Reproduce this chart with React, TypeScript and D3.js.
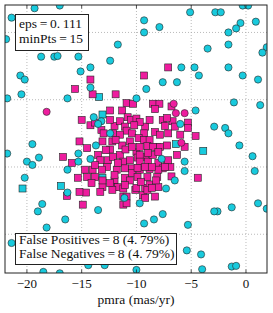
import * as d3 from 'd3';

// pmra (mas/yr) vs pmdec
// squares = true members, circles = field stars; magenta = DBSCAN cluster, cyan = noise
const truePositives: [number, number][] = [
  [-14.2, 6.5], [-15.6, 5.8], [-14.0, 5.4], [-11.9, 5.4], [-7.1, 7.4], [-9.3, 6.8],
  [-10.9, 4.75], [-10.3, 4.7], [-12.4, 4.2], [-11.3, 4.2], [-8.5, 4.7], [-7.9, 4.7],
  [-8.3, 4.3], [-6.8, 4.5], [-15.0, 3.5], [-14.2, 3.1], [-13.8, 3.3], [-13.2, 2.75],
  [-13.0, 2.5], [-12.0, 3.05], [-11.5, 3.4], [-10.8, 3.7], [-10.5, 3.5], [-10.0, 3.6],
  [-9.2, 3.0], [-8.8, 3.5], [-11.05, 3.0], [-10.9, 2.7], [-10.4, 2.5], [-12.15, 2.5],
  [-9.3, 2.5], [-8.3, 2.6], [-7.6, 3.5], [-6.7, 3.4], [-7.4, 3.05], [-6.5, 3.0],
  [-5.3, 3.3], [-5.3, 2.9], [-4.6, 2.3], [-15.2, 1.9], [-14.5, 1.4], [-13.1, 1.9],
  [-12.2, 1.9], [-12.4, 1.3], [-11.3, 1.6], [-10.6, 1.9], [-9.8, 2.15], [-9.3, 2.0],
  [-8.8, 2.0], [-8.1, 1.5], [-7.2, 1.6], [-5.6, 1.5], [-6.3, 0.9], [-16.7, 0.75],
  [-15.9, 0.3], [-14.7, -0.2], [-14.0, -0.2], [-13.5, 0.9], [-13.3, 0.5], [-12.6, 0.5],
  [-12.15, 0.75], [-11.5, 0.9], [-11.2, 0.4], [-10.6, 0.5], [-10.0, 1.1], [-9.9, 0.7],
  [-9.2, 0.75], [-8.95, 0.4], [-8.5, 0.9], [-8.0, 0.3], [-7.2, 0.4], [-6.9, 0.0],
  [-7.6, -0.1], [-8.8, -0.15], [-9.7, -0.2], [-10.4, -0.1], [-11.05, -0.1], [-11.8, -0.2],
  [-12.7, 0.0], [-13.15, -0.2], [-14.5, -0.75], [-13.8, -0.75], [-12.0, -1.0], [-11.05, -0.8],
  [-10.4, -0.45], [-9.9, -0.75], [-9.0, -0.75], [-8.0, -0.2], [-8.1, -0.75], [-6.8, -0.7],
  [-12.05, -1.5], [-11.7, -1.5], [-13.1, -1.5], [-14.1, -1.2], [-11.2, -1.6], [-10.6, -1.0],
  [-10.1, -1.7], [-10.0, -1.55], [-9.2, -1.55], [-8.8, -1.3], [-8.0, -1.5], [-14.6, -1.9],
  [-13.3, -1.85], [-12.2, -1.7], [-11.2, -2.2], [-10.9, -2.2], [-9.4, -2.1], [-8.3, -2.2],
  [-14.9, -2.8], [-11.2, -2.8], [-10.9, -2.7], [-16.35, -2.15], [-4.4, -0.8], [-9.7, 1.5],
  [-9.0, 1.55], [-8.5, 1.5], [-7.85, 1.5], [-8.95, 1.05], [-9.7, 0.9], [-8.0, 1.1],
  [-7.1, 0.5], [-9.7, 0.4], [-9.2, -2.3], [-9.0, -1.7], [-8.6, -1.55], [-9.6, -1.1],
  [-8.2, -1.0], [-15.2, -1.85], [-7.1, 2.5], [-9.7, 3.35], [-7.2, 3.65], [-13.1, -1.0],
  [-12.4, -1.2], [-12.0, -0.6], [-11.05, -1.35], [-9.9, -0.07], [-9.2, 0.0], [-8.6, 0.0],
  [-7.4, 0.0], [-11.5, 2.4], [-11.9, 2.0], [-11.0, 1.3], [-10.4, 1.5], [-11.7, 0.3],
  [-12.8, 1.25], [-13.8, 0.15], [-10.2, 3.1], [-12.4, 3.5], [-7.85, 2.4], [-6.0, 2.4],
  [-15.35, -0.8],
];

const falseNegatives: [number, number][] = [
  [-13.4, 5.2], [-13.1, 3.9], [-16.9, -1.4], [-20.4, -1.6], [-3.9, 1.2], [-6.4, 1.7],
  [-13.1, -0.8],
];

const trueNegatives: [number, number][] = [
  [-19.3, 11.8], [-17.0, 12.0], [-21.4, 11.1], [-21.9, 9.5], [-17.2, 8.9], [-11.7, 9.1],
  [-18.7, 8.2], [-17.5, 8.2], [-17.2, 8.25], [-15.3, 8.2], [-12.4, 7.9], [-15.1, 7.1],
  [-14.2, 7.4], [-20.6, 6.8], [-20.2, 6.5], [-20.5, 5.4], [-16.3, 5.1], [-14.2, 5.9],
  [-10.0, 5.1], [-5.1, 11.5], [-2.8, 11.5], [-2.3, 11.5], [-0.3, 12.0], [0.2, 12.0],
  [-9.3, 10.9], [-7.9, 10.4], [-9.3, 10.0], [0.9, 10.8], [-0.5, 10.7], [-0.9, 10.3],
  [-1.6, 10.0], [-1.6, 9.1], [-3.5, 8.8], [1.9, 8.9], [1.5, 8.5], [-5.9, 7.4],
  [-4.7, 7.4], [-1.6, 7.4], [-4.3, 6.8], [-0.3, 6.8], [1.1, 6.5], [-7.6, 6.3],
  [-6.3, 6.3], [-9.1, 5.8], [-1.1, 4.8], [1.3, 4.6], [-2.9, 3.0], [-1.9, 2.9],
  [-1.6, 2.5], [-0.6, 1.6], [0.6, 0.8], [0.8, -0.3], [1.1, -2.7], [-1.3, -3.0],
  [-2.6, -3.3], [1.9, -3.1], [-21.8, 5.1], [-19.5, 1.7], [-21.8, 1.0], [-18.9, 0.7],
  [-20.0, 0.4], [-19.5, 0.15], [-20.2, -0.8], [-18.6, -2.75], [-19.0, -3.3], [-13.9, 3.7],
  [-13.2, 3.4], [-13.5, 3.2], [-12.4, 2.5], [-13.7, 1.6], [-15.3, 1.0], [-15.3, 0.4],
  [-14.2, 0.6], [-4.6, 4.2], [-6.0, 3.2], [-7.7, 0.6], [-5.6, 0.4], [-5.6, -0.3],
  [-6.5, -1.0], [-7.3, -1.6], [-9.7, -2.7], [-7.6, -3.5], [-8.4, -3.9], [-9.3, -4.2],
  [-5.3, -4.3], [-2.9, -3.3], [-5.4, -6.2], [-4.1, -6.5], [-4.0, -7.6], [-1.3, -7.4],
  [-0.9, -7.35], [-10.0, -7.65], [-18.2, -4.5], [-16.5, -3.9], [-21.4, -5.65], [-18.5, -7.8],
  [-17.0, -7.9], [-14.4, -7.3], [-12.9, -7.3], [-16.3, -0.2], [-16.3, -1.9], [-13.5, -3.2],
  [-11.1, -2.3],
];

const falsePositives: [number, number][] = [
  [-18.2, 4.1], [-6.6, 4.7], [-6.4, 4.0], [-5.6, 4.0], [-5.9, 1.8],
];

const xTicks = [-20, -15, -10, -5, 0];
const yGridLines = [10, 5, 0, -5];
const paramLines = ['eps\u2009=\u20090.\u2009111', 'minPts\u2009=\u200915'];
const scoreLines = [
  'False Positives\u2009=\u20098 (4.\u200979%)',
  'False Negatives\u2009=\u20098 (4.\u200979%)',
];

const WIDTH = 273;
const HEIGHT = 313;
const MARGIN = { top: 5, right: 6, bottom: 40, left: 5 };

const MAGENTA = '#ee1c9e';
const CYAN = '#18cadd';
const EDGE = '#262626';
const FONT = '"Liberation Serif", "Times New Roman", serif';

const App = () => {
  const boundsWidth = WIDTH - MARGIN.left - MARGIN.right;
  const boundsHeight = HEIGHT - MARGIN.top - MARGIN.bottom;

  const xScale = d3.scaleLinear().domain([-22.0, 1.92]).range([0, boundsWidth]);
  const yScale = d3.scaleLinear().domain([-7.88, 12.04]).range([boundsHeight, 0]);

  const r = 3.6;
  const side = 7;

  const squares = (data: [number, number][], fill: string, key: string) =>
    data.map((d, i) => (
      <rect
        key={`${key}-${i}`}
        x={xScale(d[0]) - side / 2}
        y={yScale(d[1]) - side / 2}
        width={side}
        height={side}
        fill={fill}
        stroke={EDGE}
        strokeWidth={0.6}
      />
    ));

  const circles = (data: [number, number][], fill: string, key: string) =>
    data.map((d, i) => (
      <circle
        key={`${key}-${i}`}
        cx={xScale(d[0])}
        cy={yScale(d[1])}
        r={r}
        fill={fill}
        stroke={EDGE}
        strokeWidth={0.6}
      />
    ));

  return (
    <svg
      width={WIDTH}
      height={HEIGHT}
      style={{ position: 'absolute', left: 0, top: 0, background: 'white' }}
    >
      <defs>
        <clipPath id="plot-clip">
          <rect x={0} y={0} width={boundsWidth} height={boundsHeight} />
        </clipPath>
      </defs>
      <g transform={`translate(${MARGIN.left},${MARGIN.top})`}>
        {/* grid */}
        {xTicks.map(t => (
          <line
            key={`gx-${t}`}
            x1={xScale(t)}
            x2={xScale(t)}
            y1={0}
            y2={boundsHeight}
            stroke="#a8a8a8"
            strokeWidth={0.8}
            strokeDasharray="1,2"
          />
        ))}
        {yGridLines.map(t => (
          <line
            key={`gy-${t}`}
            x1={0}
            x2={boundsWidth}
            y1={yScale(t)}
            y2={yScale(t)}
            stroke="#a8a8a8"
            strokeWidth={0.8}
            strokeDasharray="1,2"
          />
        ))}

        <g clipPath="url(#plot-clip)">
          {squares(falseNegatives, CYAN, 'fn')}
          {squares(truePositives, MAGENTA, 'tp')}
          {circles(trueNegatives, CYAN, 'tn')}
          {circles(falsePositives, MAGENTA, 'fp')}
        </g>

        {/* ticks */}
        {xTicks.map(t => (
          <g key={`tick-${t}`}>
            <line x1={xScale(t)} x2={xScale(t)} y1={boundsHeight} y2={boundsHeight - 3.5} stroke="#222" strokeWidth={0.8} />
            <line x1={xScale(t)} x2={xScale(t)} y1={0} y2={3.5} stroke="#222" strokeWidth={0.8} />
            <text
              x={xScale(t)}
              y={boundsHeight + 15}
              textAnchor="middle"
              fontFamily={FONT}
              fontSize={13}
              fill="#111"
            >
              {t < 0 ? `\u2212${Math.abs(t)}` : `${t}`}
            </text>
          </g>
        ))}

        <rect x={0} y={0} width={boundsWidth} height={boundsHeight} fill="none" stroke="#222" strokeWidth={1} />

        {/* parameter box */}
        <rect x={10.5} y={9.5} width={73} height={36} fill="white" stroke="#222" strokeWidth={1} />
        {paramLines.map((line, i) => (
          <text key={line} x={14} y={23 + i * 15} fontFamily={FONT} fontSize={13.5} fill="#111">
            {line}
          </text>
        ))}

        {/* score box */}
        <rect x={10.5} y={228.5} width={161} height={31} fill="white" stroke="#222" strokeWidth={1} />
        {scoreLines.map((line, i) => (
          <text key={line} x={14} y={239 + i * 14} fontFamily={FONT} fontSize={13.5} fill="#111">
            {line}
          </text>
        ))}

        <text
          x={boundsWidth / 2}
          y={boundsHeight + 31}
          textAnchor="middle"
          fontFamily={FONT}
          fontSize={13.5}
          fill="#111"
        >
          pmra (mas/yr)
        </text>
      </g>
    </svg>
  );
};

export default App;
